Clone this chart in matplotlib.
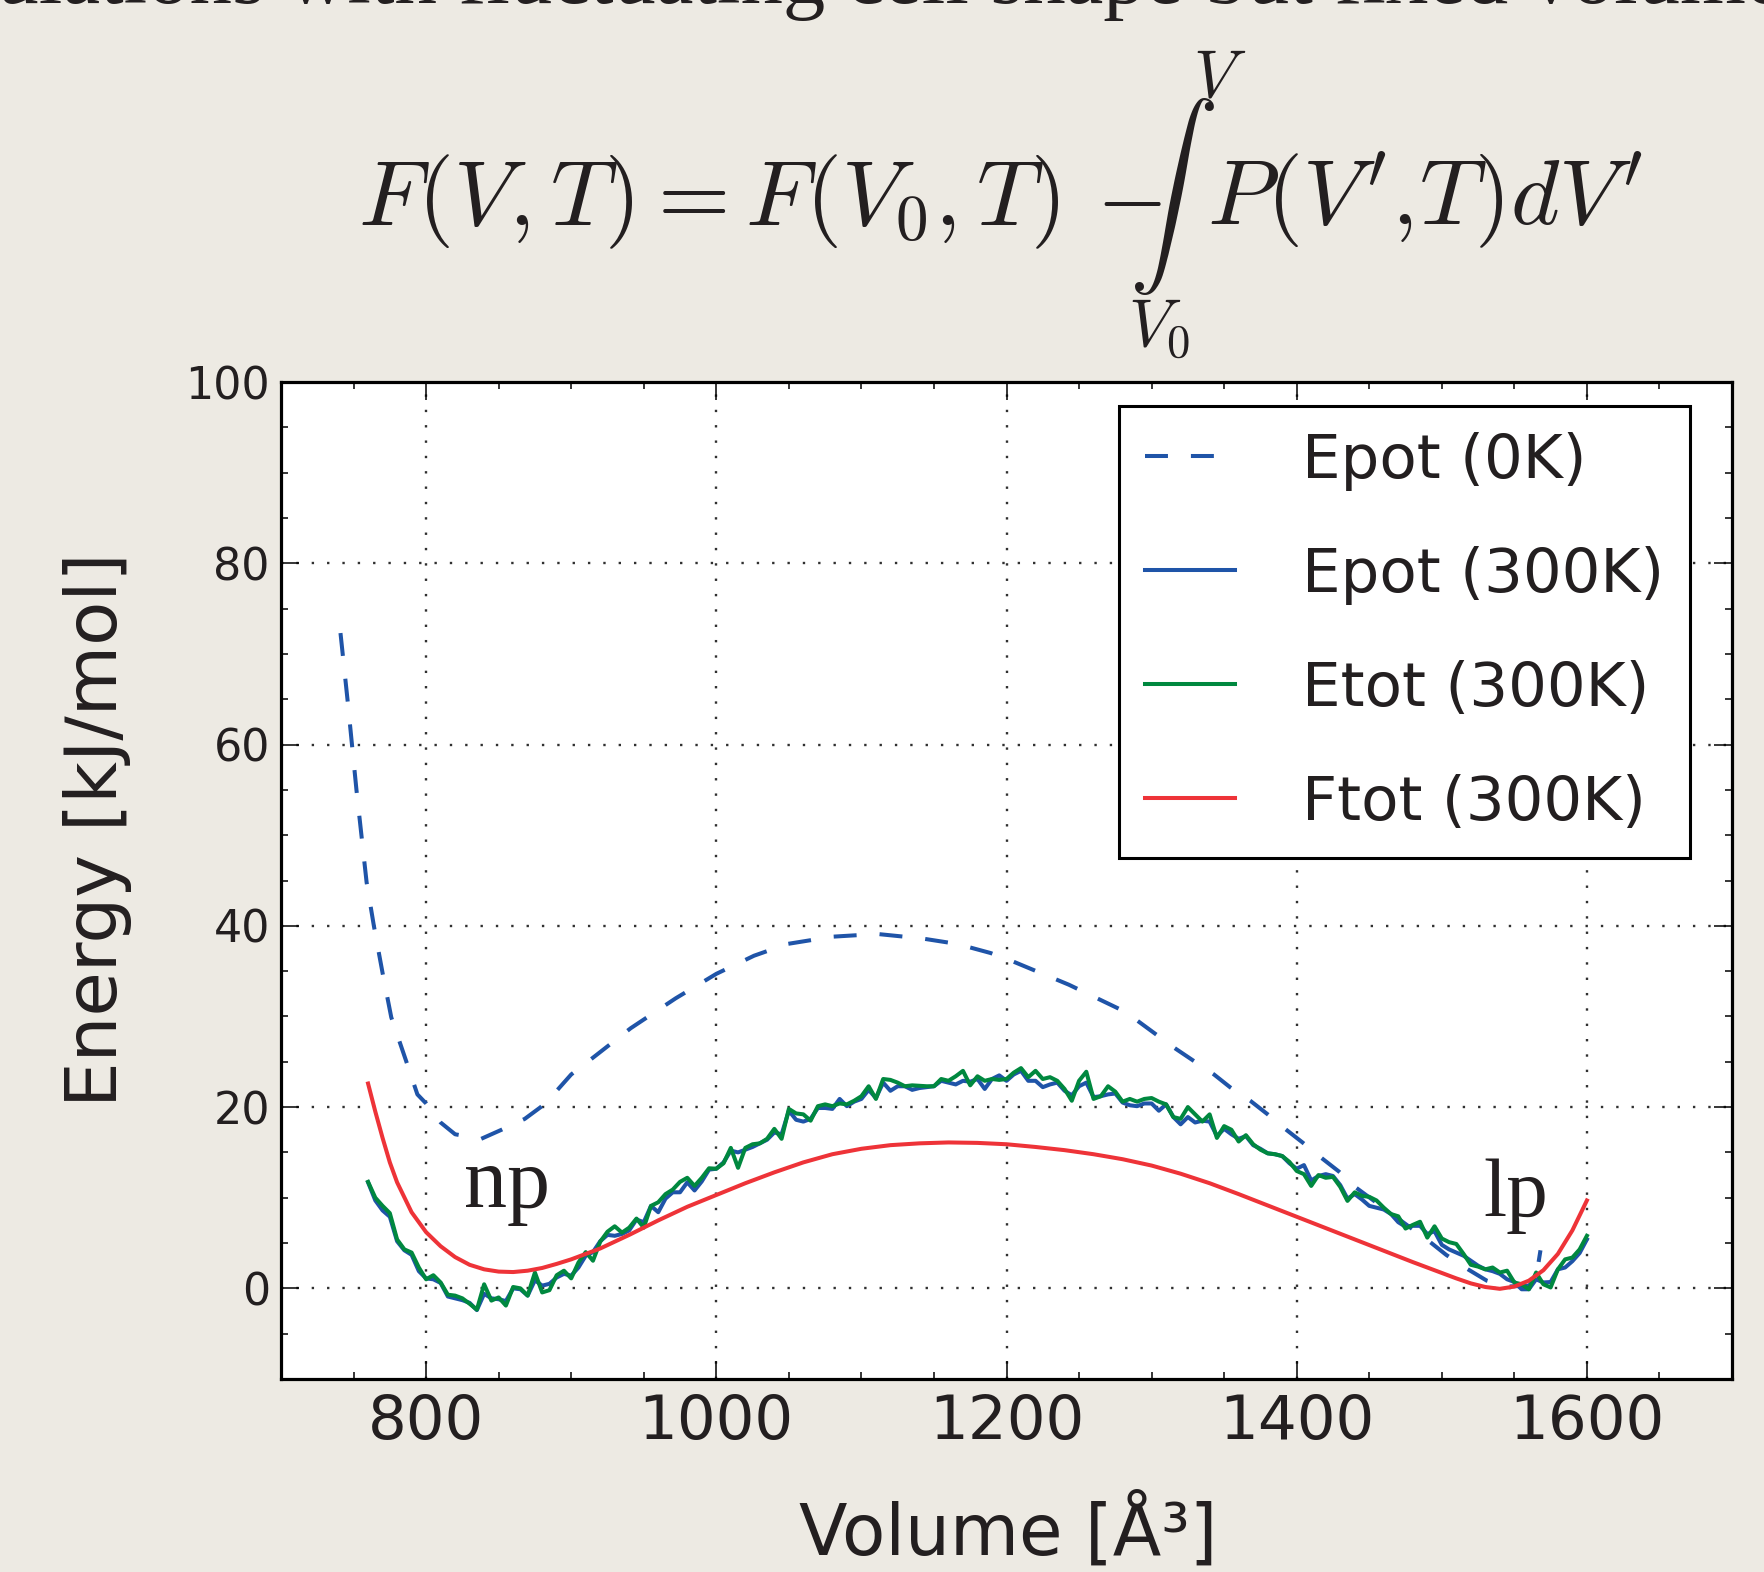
import matplotlib
matplotlib.use("Agg")
import matplotlib.pyplot as plt
from matplotlib.ticker import MultipleLocator

W, H = 1764, 1572

# Epot at 0K (dashed curve)
vol_0k = [741, 746, 752, 759, 764, 770, 776, 786, 794, 800, 810, 820, 838, 852,
          868, 879, 890, 900, 913, 925, 941, 972, 1000, 1026, 1049, 1080, 1111,
          1142, 1166, 1189, 1204, 1243, 1282, 1316, 1329, 1343, 1354, 1368, 1380,
          1392, 1404, 1417, 1429, 1441, 1492, 1503, 1517, 1531, 1545, 1560, 1565,
          1568]
epot_0k = [72.3, 64.7, 55.0, 44.8, 40.0, 34.8, 29.9, 25.2, 21.4, 20.4, 18.3, 17.0,
           16.5, 17.5, 18.7, 20.0, 21.8, 23.6, 25.2, 26.7, 28.7, 32.0, 34.7, 36.7,
           38.0, 38.8, 39.1, 38.6, 38.0, 37.0, 36.1, 33.5, 30.5, 26.5, 25.1, 23.6,
           22.2, 20.7, 19.2, 17.6, 16.1, 14.4, 12.9, 11.1, 5.1, 3.7, 2.2, 0.85, 0.2,
           0.3, 1.2, 4.2]

# MD volumes (every 5 A^3)
vol_md = list(range(760, 1601, 5))

epot_300k = [11.7, 9.7, 8.6, 7.9, 5.2, 4.2, 3.7, 1.9, 1.1, 1.0, 0.6, -0.9, -1.1, -1.3,
             -1.6, -2.4, -0.6, -1.1, -1.2, -1.4, 0.0, -0.1, -0.8, 0.9, 0.3, 0.5, 1.2,
             1.6, 1.4, 2.3, 3.6, 4.0, 5.2, 5.9, 5.8, 6.0, 6.4, 7.6, 7.3, 9.1, 8.4, 9.9,
             10.6, 10.6, 11.7, 10.8, 11.8, 13.1, 13.2, 13.9, 15.2, 15.0, 15.3, 15.6,
             16.0, 16.4, 17.2, 17.0, 19.6, 18.6, 18.4, 18.7, 19.9, 19.9, 19.8, 20.9,
             20.1, 20.6, 20.9, 21.9, 21.0, 22.7, 21.8, 22.3, 22.3, 21.9, 22.1, 22.2,
             22.3, 22.9, 22.7, 22.5, 22.9, 22.8, 23.1, 22.0, 23.1, 23.5, 22.9, 23.6,
             24.0, 22.9, 22.9, 22.2, 22.5, 22.7, 21.8, 21.3, 22.3, 22.7, 21.1, 21.2,
             21.4, 21.5, 20.5, 20.2, 20.1, 20.4, 20.4, 19.6, 20.3, 18.9, 18.1, 18.9,
             18.3, 18.5, 18.4, 16.8, 17.6, 17.0, 16.5, 16.8, 15.8, 15.4, 14.9, 14.8,
             14.6, 13.8, 13.2, 13.6, 11.9, 12.4, 12.6, 12.4, 11.4, 9.9, 10.4, 9.8, 9.1,
             8.9, 8.7, 8.2, 7.3, 6.8, 6.9, 6.9, 6.0, 6.3, 4.8, 4.3, 3.95, 3.6, 3.05,
             2.5, 2.1, 1.9, 1.6, 1.0, 0.7, -0.1, -0.1, 1.0, 0.65, 0.7, 2.1, 2.3, 3.0,
             3.9, 5.4]

etot_300k = [11.75, 10.0, 9.1, 8.3, 5.4, 4.3, 3.95, 2.3, 1.0, 1.45, 0.65, -0.7, -0.8,
             -1.1, -1.7, -2.35, 0.45, -1.35, -1.0, -1.9, 0.15, 0.0, -0.8, 1.75, -0.45,
             -0.2, 1.45, 1.95, 1.1, 2.85, 4.0, 3.05, 5.15, 6.25, 6.85, 6.15, 6.7, 7.7,
             6.7, 9.1, 9.5, 10.4, 10.9, 11.75, 12.2, 11.3, 12.2, 13.25, 13.2, 13.8,
             15.5, 13.3, 15.5, 15.9, 16.0, 16.5, 17.6, 16.5, 19.8, 19.3, 19.2, 18.5,
             20.1, 20.3, 20.1, 20.4, 20.3, 20.7, 21.2, 22.3, 20.9, 23.1, 23.0, 22.7,
             22.3, 22.4, 22.35, 22.3, 22.3, 23.1, 22.9, 23.4, 24.0, 22.4, 23.4, 22.9,
             23.1, 23.0, 23.1, 23.8, 24.3, 23.3, 24.0, 23.1, 23.3, 22.9, 22.0, 20.7,
             22.9, 23.9, 20.9, 21.2, 22.3, 21.7, 20.6, 20.9, 20.6, 20.9, 21.0, 20.6,
             20.3, 18.9, 18.7, 20.0, 19.2, 18.4, 19.2, 16.6, 17.9, 17.5, 16.2, 16.9,
             15.9, 15.3, 14.9, 14.8, 14.6, 13.95, 12.95, 12.6, 11.3, 12.5, 12.2, 12.3,
             11.2, 9.65, 10.6, 10.2, 10.1, 9.7, 8.9, 8.2, 7.95, 6.6, 7.0, 7.35, 5.6,
             6.85, 5.5, 5.1, 4.9, 3.8, 2.6, 2.4, 2.1, 2.3, 1.75, 1.95, 0.65, 0.45,
             -0.1, 1.75, 0.45, 0.1, 2.1, 3.2, 3.4, 4.3, 5.8]

# free energy at 300K (smooth curve)
vol_f = [760, 765, 770, 775, 780, 790, 800, 810, 820, 830, 840, 850, 860, 870, 880,
         890, 900, 910, 920, 940, 960, 980, 1000, 1020, 1040, 1060, 1080, 1100, 1120,
         1140, 1160, 1180, 1200, 1220, 1240, 1260, 1280, 1300, 1320, 1340, 1360, 1380,
         1400, 1420, 1440, 1460, 1480, 1500, 1510, 1520, 1530, 1540, 1550, 1560, 1570,
         1580, 1590, 1600]
ftot_300k = [22.6, 19.5, 16.6, 13.9, 11.7, 8.4, 6.2, 4.65, 3.45, 2.6, 2.1, 1.85, 1.8,
             1.95, 2.25, 2.7, 3.2, 3.8, 4.4, 5.9, 7.5, 9.0, 10.3, 11.6, 12.8, 13.9,
             14.8, 15.4, 15.8, 16.0, 16.1, 16.05, 15.9, 15.6, 15.25, 14.8, 14.25,
             13.55, 12.65, 11.6, 10.4, 9.15, 7.9, 6.65, 5.4, 4.15, 2.9, 1.7, 1.1, 0.55,
             0.15, -0.05, 0.2, 0.85, 2.0, 3.8, 6.4, 9.7]

c_blue = '#1f54a8'
c_green = '#00883f'
c_red = '#ee3338'
c_text = '#231f20'
bg = '#edeae3'

plt.rcParams['mathtext.fontset'] = 'cm'
plt.rcParams['font.family'] = 'DejaVu Sans'

fig = plt.figure(figsize=(W / 100, H / 100), dpi=100, facecolor=bg)
ax = fig.add_axes([281 / W, 1 - 1379 / H, 1451 / W, 997 / H])
ax.set_facecolor('white')

lw = 2.9
ax.plot(vol_0k, epot_0k, color=c_blue, lw=lw, dashes=(5.7, 5.7), label='Epot (0K)')
ax.plot(vol_md, epot_300k, color=c_blue, lw=lw, label='Epot (300K)')
ax.plot(vol_md, etot_300k, color=c_green, lw=lw, label='Etot (300K)')
ax.plot(vol_f, ftot_300k, color=c_red, lw=lw, label='Ftot (300K)')

ax.set_xlim(700, 1700)
ax.set_ylim(-10, 100)
ax.xaxis.set_major_locator(MultipleLocator(200))
ax.xaxis.set_minor_locator(MultipleLocator(50))
ax.yaxis.set_major_locator(MultipleLocator(20))
ax.yaxis.set_minor_locator(MultipleLocator(5))

ax.grid(True, which='major', color='#303030', lw=1.7, dashes=(1, 5.5))
ax.tick_params(which='both', direction='in', top=True, right=True, colors='black')
ax.tick_params(which='major', length=13, width=1.1)
ax.tick_params(which='minor', length=4.7, width=1.1)
ax.tick_params(axis='x', labelsize=44, pad=10, labelcolor=c_text)
ax.tick_params(axis='y', labelsize=32, pad=8, labelcolor=c_text)
for sp in ax.spines.values():
    sp.set_linewidth(2.3)
    sp.set_color('black')

leg = ax.legend(loc='upper right', bbox_to_anchor=(0.971, 0.976), borderaxespad=0,
                fontsize=44, handlelength=1.47, handletextpad=1.1, labelspacing=0.9,
                borderpad=0.42, fancybox=False, framealpha=1, edgecolor='black')
leg.get_frame().set_linewidth(2.2)
for t in leg.get_texts():
    t.set_color(c_text)

ax.text(826, 8.96, 'np', family='Liberation Serif', fontsize=62, color=c_text,
        ha='left', va='baseline')
ax.text(1528.6, 8.0, 'lp', family='Liberation Serif', fontsize=60, color=c_text,
        ha='left', va='baseline')

fig.text(98 / W, 1 - 830 / H, 'Energy [kJ/mol]', rotation=90, fontsize=52,
         color=c_text, ha='center', va='center')
fig.text(1008 / W, 1 - 1555 / H, 'Volume [Å³]', fontsize=51, color=c_text,
         ha='center', va='baseline')

# equation on top
fig.text(358 / W, 1 - 225 / H, r'$F(V,T) = F(V_0,T)$', fontsize=67, color=c_text,
         ha='left', va='baseline')
fig.text(1129 / W, 1 - 225 / H, r'$-$', fontsize=66, color=c_text,
         ha='center', va='baseline')
fig.text(1172 / W, 1 - 197 / H, r'$\int$', fontsize=64, color=c_text,
         ha='center', va='center')
fig.text(1207 / W, 1 - 225 / H, r"$P(V',\!T)dV'$", fontsize=67, color=c_text,
         ha='left', va='baseline')
fig.text(1193 / W, 1 - 96 / H, r'$V$', fontsize=48, color=c_text, ha='left',
         va='baseline')
fig.text(1128 / W, 1 - 347 / H, r'$V_0$', fontsize=48, color=c_text, ha='left',
         va='baseline')

# slide title, cut off by the top edge
fig.text(-140 / W, 1 - 3 / H, 'Simulations with fluctuating cell shape but fixed volume',
         family='Liberation Serif', fontsize=61, color=c_text, ha='left',
         va='baseline')

fig.savefig('out.png', dpi=100, facecolor=bg)
